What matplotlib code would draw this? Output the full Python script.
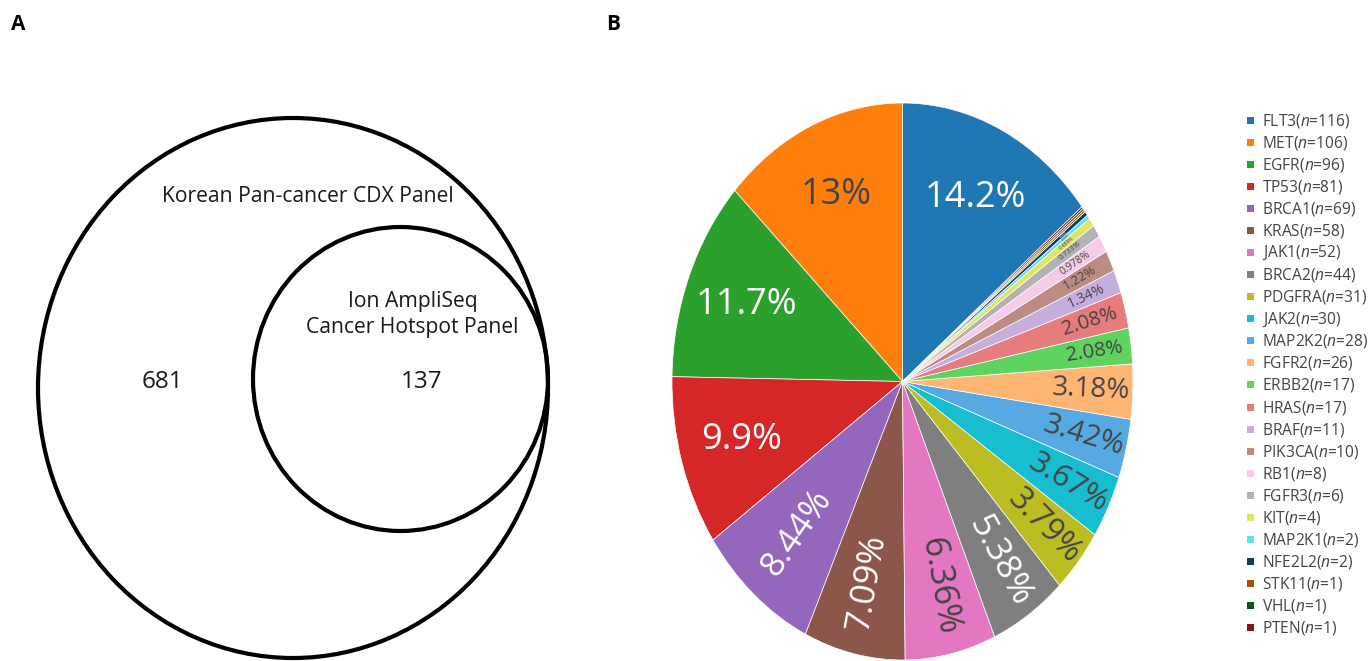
import colorsys
import numpy as np
import matplotlib
matplotlib.use("Agg")
import matplotlib.pyplot as plt
from matplotlib.patches import Ellipse, Rectangle
from matplotlib.colors import to_rgb, to_hex

plt.rcParams["font.family"] = ["Open Sans", "DejaVu Sans"]
plt.rcParams["mathtext.fontset"] = "custom"
plt.rcParams["mathtext.rm"] = "Open Sans"
plt.rcParams["mathtext.it"] = "Open Sans:italic"

# Panel A - Venn
venn_outer_label = "Korean Pan-cancer CDX Panel"
venn_inner_label = ["Ion AmpliSeq", "Cancer Hotspot Panel"]
venn_outer_only = 681
venn_shared = 137

# Panel B - pie of genes
genes = ["FLT3", "MET", "EGFR", "TP53", "BRCA1", "KRAS", "JAK1", "BRCA2",
         "PDGFRA", "JAK2", "MAP2K2", "FGFR2", "ERBB2", "HRAS", "BRAF",
         "PIK3CA", "RB1", "FGFR3", "KIT", "MAP2K1", "NFE2L2", "STK11",
         "VHL", "PTEN"]
counts = [116, 106, 96, 81, 69, 58, 52, 44, 31, 30, 28, 26, 17, 17, 11,
          10, 8, 6, 4, 2, 2, 1, 1, 1]
# denominator behind the printed percentages
n_total = venn_outer_only + venn_shared

base_colors = ["#1f77b4", "#ff7f0e", "#2ca02c", "#d62728", "#9467bd",
               "#8c564b", "#e377c2", "#7f7f7f", "#bcbd22", "#17becf"]


def shift_lightness(hex_color, amount):
    h, l, s = colorsys.rgb_to_hls(*to_rgb(hex_color))
    return to_hex(colorsys.hls_to_rgb(h, min(1, max(0, l + amount)), s))


colors = (base_colors
          + [shift_lightness(c, 0.2) for c in base_colors]
          + [shift_lightness(c, -0.2) for c in base_colors])[:len(genes)]

W, H = 1370, 661
fig = plt.figure(figsize=(W / 100, H / 100), dpi=100)

# background axes in pixel coordinates (venn, legend, panel letters)
ax = fig.add_axes([0, 0, 1, 1])
ax.set_xlim(0, W)
ax.set_ylim(H, 0)
ax.axis("off")

ax.add_patch(Ellipse((293, 388), 510, 540, fill=False, edgecolor="black", linewidth=3))
ax.add_patch(Ellipse((400.5, 379), 295, 304, fill=False, edgecolor="black", linewidth=3))
ax.text(308, 197, venn_outer_label, ha="center", va="center", fontsize=15.2, color="#1a1a1a")
ax.text(413, 302, venn_inner_label[0], ha="center", va="center", fontsize=15.2, color="#1a1a1a")
ax.text(412, 328, venn_inner_label[1], ha="center", va="center", fontsize=15.2, color="#1a1a1a")
ax.text(162, 382, str(venn_outer_only), ha="center", va="center", fontsize=17.5, color="#1a1a1a")
ax.text(422, 382, str(venn_shared), ha="center", va="center", fontsize=17.5, color="#1a1a1a")

ax.text(18, 25, "A", ha="center", va="center", fontsize=15, fontweight="bold")
ax.text(613, 25, "B", ha="center", va="center", fontsize=15, fontweight="bold")

# legend
for i, (g, c, col) in enumerate(zip(genes, counts, colors)):
    y = 121 + 22.04 * i
    ax.add_patch(Rectangle((1247, y - 4), 7, 7, facecolor=col, edgecolor="none"))
    ax.text(1262, y, f"{g}($\\it{{n}}$={c})", ha="left", va="center",
            fontsize=11.2, color="#444444")

# pie
px0, px1, py0, py1 = 672, 1133, 103, 660
ax_pie = fig.add_axes([px0 / W, (H - py1) / H, (px1 - px0) / W, (py1 - py0) / H])
wedges, _ = ax_pie.pie(counts, colors=colors,
                       startangle=90 - 360 * counts[0] / sum(counts),
                       counterclock=True,
                       wedgeprops=dict(edgecolor="white", linewidth=0.5))
ax_pie.set_aspect("auto")
ax_pie.set_xlim(-1, 1)
ax_pie.set_ylim(-1, 1)
ax_pie.axis("off")

rx, ry = (px1 - px0) / 2, (py1 - py0) / 2
for w, c, col in zip(wedges, counts, colors):
    pct = 100 * c / n_total
    span = w.theta2 - w.theta1
    mid = np.deg2rad((w.theta1 + w.theta2) / 2)
    size = min(25, 2.1 * span, 1.37 * span + 4.4)
    if size < 1.5:
        continue
    if pct > 9:
        rad, rot = 0.73, 0
        size = 26
    else:
        rad = float(np.clip(0.88 - 0.02 * pct, 0.71, 0.88))
        rot = np.degrees(np.arctan2(ry * np.sin(mid), rx * np.cos(mid)))
        if rot > 90:
            rot -= 180
        elif rot < -90:
            rot += 180
    rr, gg, bb = to_rgb(col)
    bright = (299 * rr + 587 * gg + 114 * bb) * 255 / 1000
    tc = "#444444" if bright >= 128 else "white"
    ax_pie.text(rad * np.cos(mid), rad * np.sin(mid), f"{pct:.3g}%",
                rotation=rot, rotation_mode="anchor", ha="center", va="center",
                fontsize=size, color=tc)

fig.savefig("out.png", dpi=100)
